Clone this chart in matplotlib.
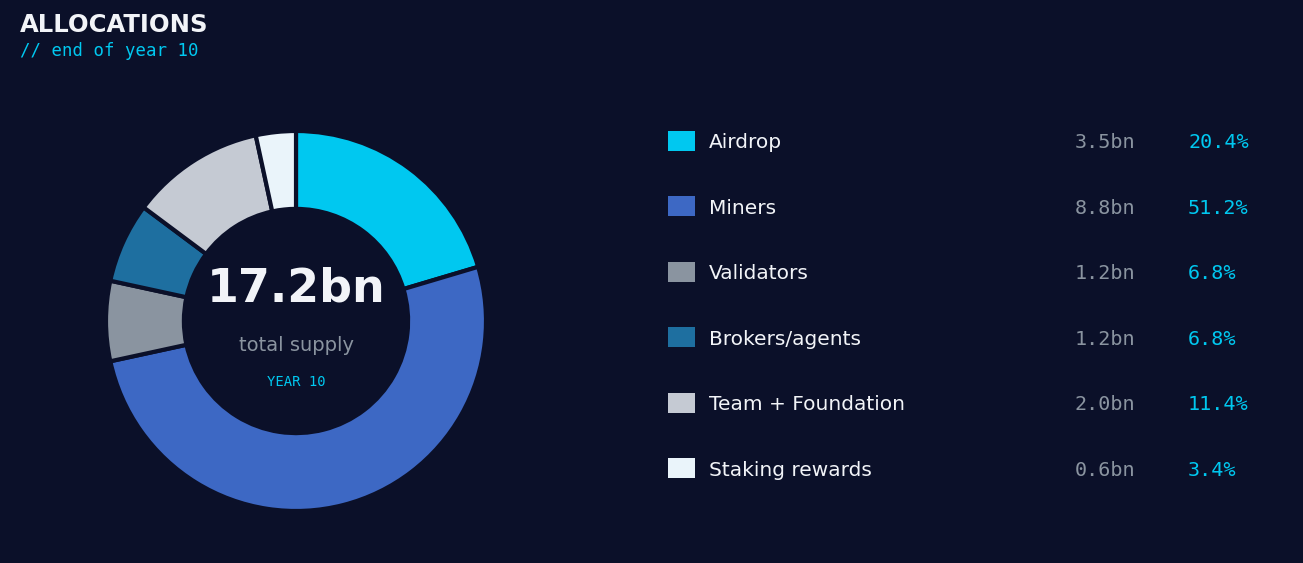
import matplotlib
matplotlib.use("Agg")
import matplotlib.pyplot as plt
from matplotlib.patches import Rectangle

categories = ["Airdrop", "Miners", "Validators", "Brokers/agents", "Team + Foundation", "Staking rewards"]
amounts = ["3.5bn", "8.8bn", "1.2bn", "1.2bn", "2.0bn", "0.6bn"]
percents = [20.4, 51.2, 6.8, 6.8, 11.4, 3.4]
colors = ["#00c8f0", "#3d68c4", "#8a94a0", "#1e6fa0", "#c5cad3", "#eaf4fa"]
total_label = "17.2bn"

BG = "#0b1029"
W, H = 1303, 563
fig = plt.figure(figsize=(W/100, H/100), dpi=100, facecolor=BG)

ax = fig.add_axes([(296-190)/W, (242-190)/H, 380/W, 380/H])
ax.set_facecolor(BG)
ax.pie(percents, colors=colors, startangle=90, counterclock=False, radius=1.0,
       wedgeprops=dict(width=0.41, edgecolor=BG, linewidth=3))
ax.set_xlim(-1, 1)
ax.set_ylim(-1, 1)
ax.set_aspect("equal")
ax.text(0, 0.17, total_label, ha="center", va="center", color="#f2f4f8", fontsize=33, fontweight="bold")
ax.text(0, -0.13, "total supply", ha="center", va="center", color="#8a94a0", fontsize=14)
ax.text(0, -0.32, "YEAR 10", ha="center", va="center", color="#00c8f0", fontsize=10, family="DejaVu Sans Mono")

def fy(y):
    return 1 - y / H

fig.text(20/W, fy(25), "ALLOCATIONS", color="#f2f4f8", fontsize=17.5, fontweight="bold", va="center")
fig.text(20/W, fy(51), "// end of year 10", color="#00c8f0", fontsize=12.5, family="DejaVu Sans Mono", va="center")

for i, (c, a, p, col) in enumerate(zip(categories, amounts, percents, colors)):
    y = 141 + i * 65.4
    fig.patches.append(Rectangle((668/W, fy(y + 10)), 27/W, 20/H, transform=fig.transFigure,
                                 facecolor=col, edgecolor="none"))
    fig.text(709/W, fy(y + 2), c, color="#f2f4f8", fontsize=14.5, va="center")
    fig.text(1135/W, fy(y + 2), a, color="#8a94a0", fontsize=14.5, va="center", ha="right", family="DejaVu Sans Mono")
    fig.text(1188/W, fy(y + 2), f"{p:.1f}%", color="#00c8f0", fontsize=14.5, va="center", family="DejaVu Sans Mono")

fig.savefig("out.png", dpi=100, facecolor=BG)
